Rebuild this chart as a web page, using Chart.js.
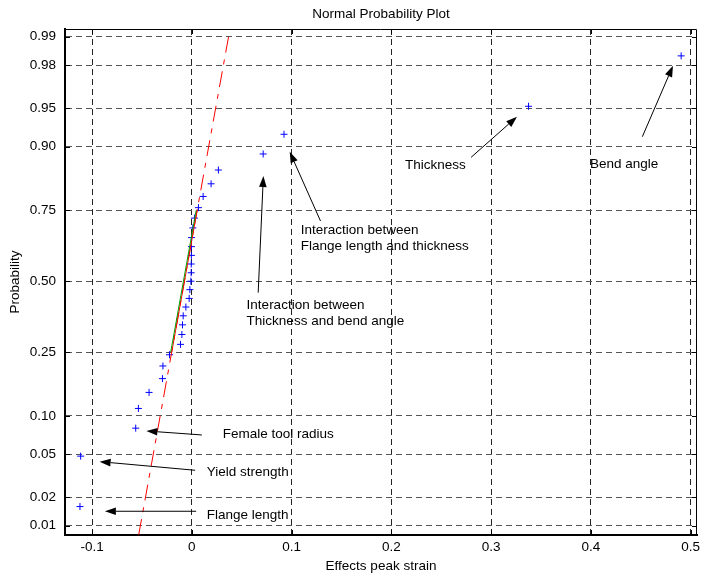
<!DOCTYPE html>
<html>
<head>
<meta charset="utf-8">
<script src="https://cdn.jsdelivr.net/npm/chart.js@4"></script>
<style>
  html, body { margin: 0; padding: 0; background: #fff; }
  #wrap { width: 702px; height: 575px; }
</style>
</head>
<body>
<div id="wrap"><canvas id="myChart"></canvas></div>
<script>
// effect estimates (sorted) and their plotting probabilities
const effects = [-0.1122, -0.1115, -0.0563, -0.0536, -0.0429, -0.0295, -0.0290, -0.0224,
  -0.0114, -0.0100, -0.0094, -0.0087, -0.0060, -0.0027, -0.0020, -0.0010,
  -0.0007, -0.0006, -0.0005, -0.0004, -0.0003, 0.0010, 0.0026, 0.0066,
  0.0113, 0.0193, 0.0266, 0.0715, 0.0924, 0.3376, 0.4906]
const probs = [0.016, 0.048, 0.081, 0.113, 0.145, 0.177, 0.210, 0.242,
  0.274, 0.306, 0.339, 0.371, 0.403, 0.435, 0.468, 0.500,
  0.532, 0.565, 0.597, 0.629, 0.661, 0.694, 0.726, 0.758,
  0.790, 0.823, 0.855, 0.887, 0.919, 0.952, 0.984]

// reference line: ends, 1st and 3rd quartile
const refX = [-0.0533, -0.0202, 0.0053, 0.0382]
const refP = [0.0079, 0.25, 0.75, 0.9918]
const fitX = [-0.0212, 0.0043]
const fitP = [0.25, 0.75]

const probTicks = [0.01, 0.02, 0.05, 0.10, 0.25, 0.50, 0.75, 0.90, 0.95, 0.98, 0.99]
const xTicks = [-0.1, 0, 0.1, 0.2, 0.3, 0.4, 0.5]

// labels: text, x, y (y in normal score units)
const notes = [
  {lines: ['Thickness'], x: 0.2136, z: 1.099, from: [0.280, 1.179], to: [0.326, 1.565]},
  {lines: ['Bend angle'], x: 0.3992, z: 1.115, from: [0.4517, 1.375], to: [0.4824, 2.050]},
  {lines: ['Interaction between', 'Flange length and thickness'], x: 0.1091, z: 0.480, from: [0.129, 0.573], to: [0.0981, 1.232]},
  {lines: ['Interaction between', 'Thickness and bend angle'], x: 0.0549, z: -0.229, from: [0.0665, -0.109], to: [0.0717, 1.001]},
  {lines: ['Female tool radius'], x: 0.0309, z: -1.457, from: [0.0100, -1.463], to: [-0.0456, -1.425]},
  {lines: ['Yield strength'], x: 0.0150, z: -1.822, from: [0.0033, -1.799], to: [-0.0925, -1.717]},
  {lines: ['Flange length'], x: 0.0150, z: -2.225, from: [0.0043, -2.189], to: [-0.0872, -2.189]},
]

// inverse of the standard normal cdf (Acklam)
function normInv(p) {
  const a = [-39.69683028665376, 220.9460984245205, -275.9285104469687, 138.3577518672690, -30.66479806614716, 2.506628277459239]
  const b = [-54.47609879822406, 161.5858368580409, -155.6989798598866, 66.80131188771972, -13.28068155288572]
  const c = [-0.007784894002430293, -0.3223964580411365, -2.400758277161838, -2.549732539343734, 4.374664141464968, 2.938163982698783]
  const d = [0.007784695709041462, 0.3224671290700398, 2.445134137142996, 3.754408661907416]
  const pl = 0.02425
  let q, r
  if (p < pl) {
    q = Math.sqrt(-2 * Math.log(p))
    return (((((c[0]*q+c[1])*q+c[2])*q+c[3])*q+c[4])*q+c[5]) / ((((d[0]*q+d[1])*q+d[2])*q+d[3])*q+1)
  }
  if (p > 1 - pl) {
    q = Math.sqrt(-2 * Math.log(1 - p))
    return -(((((c[0]*q+c[1])*q+c[2])*q+c[3])*q+c[4])*q+c[5]) / ((((d[0]*q+d[1])*q+d[2])*q+d[3])*q+1)
  }
  q = p - 0.5
  r = q * q
  return (((((a[0]*r+a[1])*r+a[2])*r+a[3])*r+a[4])*r+a[5])*q / (((((b[0]*r+b[1])*r+b[2])*r+b[3])*r+b[4])*r+1)
}

const FONT = '"Liberation Sans", Arial, sans-serif'
const FS = 13.5

const frame = {
  id: 'frame',
  afterDraw(chart) {
    const {ctx, chartArea: a, scales: {x, y}} = chart
    ctx.save()
    ctx.strokeStyle = '#000'
    ctx.lineWidth = 1
    ctx.beginPath()
    ctx.moveTo(a.left, a.top + 0.5); ctx.lineTo(a.right - 0.5, a.top + 0.5)
    ctx.lineTo(a.right - 0.5, a.bottom)
    ctx.stroke()
    // inner tick marks
    ctx.beginPath()
    xTicks.forEach(v => {
      const px = Math.round(x.getPixelForValue(v)) + 0.5
      ctx.moveTo(px, a.bottom); ctx.lineTo(px, a.bottom - 5)
      ctx.moveTo(px, a.top); ctx.lineTo(px, a.top + 5)
    })
    probTicks.forEach(p => {
      const py = Math.round(y.getPixelForValue(normInv(p))) + 0.5
      ctx.moveTo(a.left, py); ctx.lineTo(a.left + 5, py)
      ctx.moveTo(a.right, py); ctx.lineTo(a.right - 5, py)
    })
    ctx.stroke()

    // title
    ctx.fillStyle = '#000'
    ctx.font = FS + 'px ' + FONT
    ctx.textAlign = 'center'
    ctx.textBaseline = 'middle'
    ctx.fillText('Normal Probability Plot', (a.left + a.right) / 2, 14)

    // annotations
    ctx.textAlign = 'left'
    notes.forEach(n => {
      const tx = x.getPixelForValue(n.x), ty = y.getPixelForValue(n.z)
      n.lines.forEach((t, i) => ctx.fillText(t, tx, ty + i * 16))
      const x1 = x.getPixelForValue(n.from[0]), y1 = y.getPixelForValue(n.from[1])
      const x2 = x.getPixelForValue(n.to[0]), y2 = y.getPixelForValue(n.to[1])
      const ang = Math.atan2(y2 - y1, x2 - x1)
      const hl = 11, hw = 3.8
      ctx.beginPath()
      ctx.moveTo(x1, y1)
      ctx.lineTo(x2 - hl * Math.cos(ang), y2 - hl * Math.sin(ang))
      ctx.stroke()
      ctx.beginPath()
      ctx.moveTo(x2, y2)
      ctx.lineTo(x2 - hl * Math.cos(ang) + hw * Math.sin(ang), y2 - hl * Math.sin(ang) - hw * Math.cos(ang))
      ctx.lineTo(x2 - hl * Math.cos(ang) - hw * Math.sin(ang), y2 - hl * Math.sin(ang) + hw * Math.cos(ang))
      ctx.closePath()
      ctx.fill()
    })
    ctx.restore()
  }
}

const config = {
  type: 'scatter',
  data: {
    datasets: [
      {
        label: 'fit',
        data: fitX.map((v, i) => ({x: v, y: normInv(fitP[i])})),
        showLine: true, borderColor: '#00a000', borderWidth: 1, pointRadius: 0,
      },
      {
        label: 'quartiles',
        data: refX.slice(1, 3).map((v, i) => ({x: v, y: normInv(refP[i + 1])})),
        showLine: true, borderColor: '#ff0000', borderWidth: 1, pointRadius: 0,
      },
      {
        label: 'reference',
        data: refX.map((v, i) => ({x: v, y: normInv(refP[i])})),
        showLine: true, borderColor: '#ff0000', borderWidth: 1, pointRadius: 0,
        borderDash: [16, 7, 5, 7],
      },
      {
        label: 'effects',
        data: effects.map((v, i) => ({x: v, y: normInv(probs[i])})),
        pointStyle: 'cross', pointRadius: 3.5, borderColor: '#0000ff', borderWidth: 1,
        backgroundColor: '#0000ff',
      },
    ]
  },
  options: {
    responsive: false,
    animation: false,
    devicePixelRatio: 1,
    layout: {padding: {top: 29, right: 0, left: 0, bottom: 0}},
    plugins: {legend: {display: false}, tooltip: {enabled: false}, title: {display: false}},
    scales: {
      x: {
        type: 'linear', min: -0.1272, max: 0.5065,
        afterBuildTicks: s => { s.ticks = xTicks.map(v => ({value: v})) },
        afterFit: s => { s.height = 40; s.paddingLeft = 0; s.paddingRight = 3 },
        ticks: {
          color: '#000', padding: 4, maxRotation: 0, autoSkip: false,
          font: {family: FONT, size: FS},
          callback: v => (v === 0 ? '0' : String(Math.round(v * 10) / 10)),
        },
        grid: {color: '#222', drawTicks: false, lineWidth: 1},
        border: {display: true, color: '#000', width: 2, dash: [6, 4]},
        title: {display: true, text: 'Effects peak strain', color: '#000', font: {family: FONT, size: FS}, padding: {top: 0, bottom: 1}},
      },
      y: {
        type: 'linear', min: -2.415, max: 2.40,
        afterBuildTicks: s => { s.ticks = probTicks.map(p => ({value: normInv(p)})) },
        afterFit: s => { s.width = 65; s.paddingTop = 0; s.paddingBottom = 0 },
        ticks: {
          color: '#000', padding: 9, autoSkip: false,
          font: {family: FONT, size: FS},
          callback: (v, i) => probTicks[i].toFixed(2),
        },
        grid: {color: '#555', drawTicks: false, lineWidth: 1},
        border: {display: true, color: '#000', width: 2, dash: [6, 4]},
        title: {display: true, text: 'Probability', color: '#000', font: {family: FONT, size: FS}, padding: {top: 7, bottom: 0}},
      }
    }
  },
  plugins: [frame]
}

const canvas = document.getElementById('myChart')
canvas.width = 702
canvas.height = 575
new Chart(canvas, config)
</script>
</body>
</html>
